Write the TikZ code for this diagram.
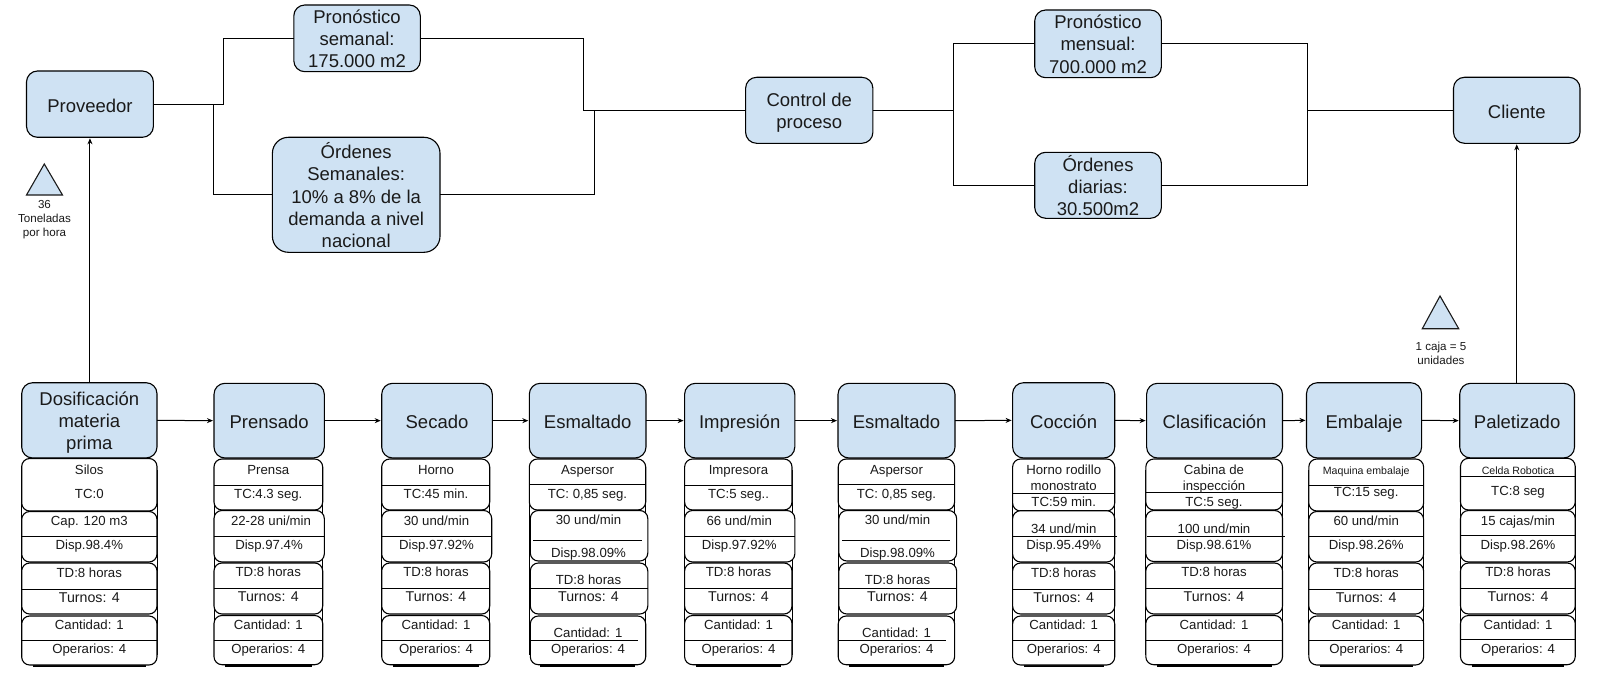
\documentclass[tikz,border=0pt]{standalone}
\usepackage{fontspec}
\setmainfont{Liberation Sans}
\usetikzlibrary{arrows.meta}
\definecolor{lblue}{HTML}{CFE2F3}
\definecolor{ink}{HTML}{1A1A1A}
\tikzset{
  base box/.style={draw=black,line width=1.1pt,inner sep=0pt,outer sep=0pt,align=center,text=ink},
  titlebox/.style={base box,fill=lblue,rounded corners=11pt},
  bigbox/.style={base box,fill=lblue,rounded corners=16pt},
  subbox/.style={base box,fill=white,rounded corners=8pt},
  titletext/.style={inner sep=0pt,outer sep=0pt,align=center,text=ink,yshift=-3.6pt,
    font=\fontsize{18.5}{22.3}\selectfont,execute at begin node=\strut,execute at end node=\strut},
  lbl/.style={anchor=base,inner sep=0pt,text=ink,font=\fontsize{13.2}{15}\selectfont},
  lblT/.style={lbl,font=\fontsize{14.2}{15}\selectfont},
  lblS/.style={lbl,font=\fontsize{10.6}{12}\selectfont},
  note/.style={inner sep=0pt,align=center,text=ink,font=\fontsize{11.6}{14}\selectfont},
  sepline/.style={line width=1pt,black},
  link/.style={line width=1pt,black},
  flow/.style={line width=1pt,black,-{Stealth[length=6pt,width=5pt]},shorten >=1pt},
  tri/.style={draw=ink,line width=1.1pt,fill=lblue,line join=miter},
}
\newcommand{\bx}[7][]{%
  \pgfmathsetmacro\bxw{#5-#3}\pgfmathsetmacro\bxh{#6-#4}%
  \node[#1,minimum width=\bxw pt,minimum height=\bxh pt] (#2) at ({(#3+#5)/2},{(#4+#6)/2}) {};
  \if\relax\detokenize{#7}\relax\else\node[titletext] (#2text) at (#2.center) {#7};\fi}
% name, x, y of text middle, text
\newcommand{\tx}[5][lbl]{\node[#1] (#2) at (#3,#4+4.7) {#5};}
% sharp sides behind a column, foot line
\newcommand{\sides}[2]{%
  \draw[sepline] (#1,470)--(#1,655) (#2,470)--(#2,655);
  \draw[line width=1.4pt] (#1+11,665.8)--(#2-11,665.8);}
\newcommand{\sep}[3]{\draw[sepline] (#1,#3)--(#2,#3);}
\begin{document}
\begin{tikzpicture}[x=1pt,y=-1pt]
\useasboundingbox[fill=white] (0,0) rectangle (1616,682);

% top row
\bx[titlebox]{prov}{26.5}{71}{153.4}{137.3}{Proveedor}
\bx[titlebox]{psem}{293.8}{5}{420.3}{71.7}{Pronóstico\\semanal:\\175.000 m2}
\bx[bigbox]{osem}{272.4}{137.3}{440}{252.3}{Órdenes\\Semanales:\\10\% a 8\% de la\\demanda a nivel\\nacional}
\bx[titlebox]{ctrl}{745.6}{77.3}{872.9}{143.3}{Control de\\proceso}
\bx[titlebox]{pmen}{1034.7}{10}{1161.4}{77.7}{Pronóstico\\mensual:\\700.000 m2}
\bx[titlebox]{odia}{1034.7}{152.3}{1161.4}{218.3}{Órdenes\\diarias:\\30.500m2}
\bx[titlebox]{cli}{1453.5}{77.3}{1580}{143.3}{Cliente}

\coordinate (j1) at (223.4,104.15);
\coordinate (j2) at (213.5,104.15);
\coordinate (j3) at (583,110.3);
\coordinate (j4) at (594,110.3);
\coordinate (j5) at (953.5,110.3);
\coordinate (j6) at (1307.5,110.3);
\draw[link] (prov.east) -- (j1) |- (psem.west);
\draw[link] (j2) |- (osem.west);
\draw[link] (psem.east) -| (j3) -- (ctrl.west);
\draw[link] (osem.east) -| (j4);
\draw[link] (ctrl.east) -- (j5) |- (pmen.west);
\draw[link] (j5) |- (odia.west);
\draw[link] (pmen.east) -| (j6) -- (cli.west);
\draw[link] (odia.east) -| (j6);

% inventory triangles
\draw[tri] (44.3,164) -- (62.5,195) -- (26.5,195) -- cycle;
\node[note] (nota) at (44.5,220) {36\\Toneladas\\por hora};
\draw[tri] (1440,296) -- (1458.7,328.7) -- (1422.3,328.7) -- cycle;
\node[note] (notb) at (1441,353) {1 caja = 5\\unidades};

% process row
\bx[titlebox]{t1}{21.7}{382.7}{157}{458}{Dosificación\\materia\\prima}
\bx[titlebox]{t2}{214}{383.3}{324.3}{458}{Prensado}
\bx[titlebox]{t3}{381.7}{383.3}{492.3}{458}{Secado}
\bx[titlebox]{t4}{529.3}{383.3}{646}{458}{Esmaltado}
\bx[titlebox]{t5}{684.6}{383.3}{794.8}{458}{Impresión}
\bx[titlebox]{t6}{838}{383.3}{955}{458}{Esmaltado}
\bx[titlebox]{t7}{1012.6}{382.7}{1114.7}{458}{Cocción}
\bx[titlebox]{t8}{1146.6}{383.3}{1282.5}{458}{Clasificación}
\bx[titlebox]{t9}{1306.5}{382.7}{1421.6}{458}{Embalaje}
\bx[titlebox]{t10}{1459.7}{383.3}{1574.5}{458}{Paletizado}

\draw[flow] (t1.east) -- (t2.west);
\draw[flow] (t2.east) -- (t3.west);
\draw[flow] (t3.east) -- (t4.west);
\draw[flow] (t4.east) -- (t5.west);
\draw[flow] (t5.east) -- (t6.west);
\draw[flow] (t6.east) -- (t7.west);
\draw[flow] (t7.east) -- (t8.west);
\draw[flow] (t8.east) -- (t9.west);
\draw[flow] (t9.east) -- (t10.west);
\draw[flow] (prov.south |- t1.north) -- (prov.south);
\draw[flow] (cli.south |- t10.north) -- (cli.south);

% column 1
\sides{21.7}{157}
\bx[subbox]{a1}{21.7}{458.5}{157}{511}{}
\bx[subbox]{a2}{21.7}{511.5}{157}{562}{}
\bx[subbox]{a3}{21.7}{563}{157}{614}{}
\bx[subbox]{a4}{21.7}{616}{157}{665}{}
\sep{21.7}{157}{536}\sep{21.7}{157}{589.3}\sep{21.7}{157}{640}
\tx{a1a}{89.3}{469.5}{Silos}
\tx{a1b}{89.3}{493.5}{TC:0}
\tx{a2a}{89.3}{521}{Cap. 120 m3}
\tx{a2b}{89.3}{545}{Disp.98.4\%}
\tx{a3a}{89.3}{572.5}{TD:8 horas}
\tx[lblT]{a3b}{89.3}{597.5}{Turnos: 4}
\tx{a4a}{89.3}{625}{Cantidad: 1}
\tx{a4b}{89.3}{649}{Operarios: 4}

% column 2
\sides{214}{322.7}
\bx[subbox]{b1}{214}{459}{322.7}{510}{}
\bx[subbox]{b2}{214}{510.5}{324.3}{562}{}
\bx[subbox]{b3}{214}{563}{322.7}{614}{}
\bx[subbox]{b4}{214}{615.5}{322.7}{664.7}{}
\sep{214}{322.7}{485}\sep{214}{324.3}{536}\sep{214}{322.7}{588.5}\sep{214}{322.7}{640}
\tx{b1a}{268.3}{469.3}{Prensa}
\tx{b1b}{268.3}{493.3}{TC:4.3 seg.}
\tx{b2a}{271}{520.7}{22-28 uni/min}
\tx{b2b}{269}{544.7}{Disp.97.4\%}
\tx{b3a}{268.3}{572}{TD:8 horas}
\tx[lblT]{b3b}{268.3}{597}{Turnos: 4}
\tx{b4a}{268.3}{624.3}{Cantidad: 1}
\tx{b4b}{268.3}{648.3}{Operarios: 4}

% column 3
\sides{381.7}{489.7}
\bx[subbox]{c1}{381.7}{459}{489.7}{510}{}
\bx[subbox]{c2}{381.7}{510.5}{491.7}{562}{}
\bx[subbox]{c3}{381.7}{563}{489.7}{614}{}
\bx[subbox]{c4}{381.7}{615.5}{489.7}{664.7}{}
\sep{381.7}{489.7}{485}\sep{381.7}{491.7}{536}\sep{381.7}{489.7}{588.5}\sep{381.7}{489.7}{640}
\tx{c1a}{436}{469.3}{Horno}
\tx{c1b}{436}{493.3}{TC:45 min.}
\tx{c2a}{436.5}{520.7}{30 und/min}
\tx{c2b}{436.5}{544.7}{Disp.97.92\%}
\tx{c3a}{436}{572}{TD:8 horas}
\tx[lblT]{c3b}{436}{597}{Turnos: 4}
\tx{c4a}{436}{624.3}{Cantidad: 1}
\tx{c4b}{436}{648.3}{Operarios: 4}

% column 4
\sides{529.3}{645.7}
\bx[subbox]{d1}{529.3}{459}{645.7}{510}{}
\bx[subbox]{d2}{530.3}{510.5}{647.8}{561}{}
\bx[subbox]{d3}{530.3}{563}{647.8}{614}{}
\bx[subbox]{d4}{530.3}{616}{645.7}{664.7}{}
\sep{529.3}{645.7}{484.3}\sep{533}{641.6}{540}\sep{530.3}{647.8}{588.3}\sep{530.3}{637.8}{640.3}
\tx{d1a}{587.5}{469.3}{Aspersor}
\tx{d1b}{587.5}{493.3}{TC: 0,85 seg.}
\tx{d2a}{588.5}{520}{30 und/min}
\tx{d2b}{588.5}{552.7}{Disp.98.09\%}
\tx{d3a}{588.5}{580}{TD:8 horas}
\tx[lblT]{d3b}{588.5}{597}{Turnos: 4}
\tx{d4a}{588}{632.3}{Cantidad: 1}
\tx{d4b}{588}{648.3}{Operarios: 4}

% column 5
\sides{684.6}{792}
\bx[subbox]{e1}{684.6}{459}{792}{510}{}
\bx[subbox]{e2}{684.6}{510.5}{794.8}{562}{}
\bx[subbox]{e3}{684.6}{563}{792}{614}{}
\bx[subbox]{e4}{684.6}{615.5}{792}{664.7}{}
\sep{684.6}{792}{485}\sep{684.6}{794.8}{536}\sep{684.6}{792}{588.5}\sep{684.6}{792}{640}
\tx{e1a}{738.5}{469.3}{Impresora}
\tx{e1b}{738.5}{493.3}{TC:5 seg..}
\tx{e2a}{739.3}{520.7}{66 und/min}
\tx{e2b}{739.3}{544.7}{Disp.97.92\%}
\tx{e3a}{738.5}{572}{TD:8 horas}
\tx[lblT]{e3b}{738.5}{597}{Turnos: 4}
\tx{e4a}{738.5}{624.3}{Cantidad: 1}
\tx{e4b}{738.5}{648.3}{Operarios: 4}

% column 6
\sides{838.2}{954.6}
\bx[subbox]{f1}{838.2}{459}{954.6}{510}{}
\bx[subbox]{f2}{838.9}{510.5}{956.6}{561}{}
\bx[subbox]{f3}{838.9}{563}{956.6}{614}{}
\bx[subbox]{f4}{838.2}{616}{954.6}{664.7}{}
\sep{838.2}{954.6}{484.3}\sep{842.3}{950.4}{540}\sep{838.9}{956.6}{588.3}\sep{838.2}{946.3}{640.3}
\tx{f1a}{896.5}{469.3}{Aspersor}
\tx{f1b}{896.5}{493.3}{TC: 0,85 seg.}
\tx{f2a}{897.5}{520}{30 und/min}
\tx{f2b}{897.5}{552.7}{Disp.98.09\%}
\tx{f3a}{897.5}{580}{TD:8 horas}
\tx[lblT]{f3b}{897.5}{597}{Turnos: 4}
\tx{f4a}{896.5}{632.3}{Cantidad: 1}
\tx{f4b}{896.5}{648.3}{Operarios: 4}

% column 7
\sides{1012.6}{1114.7}
\bx[subbox]{g1}{1012.6}{459}{1114.7}{511}{}
\bx[subbox]{g2}{1012.6}{510.7}{1114.7}{562}{}
\bx[subbox]{g3}{1012.6}{563}{1114.7}{614}{}
\bx[subbox]{g4}{1012.6}{616}{1114.7}{665}{}
\sep{1012.6}{1114.7}{493.3}\sep{1012.6}{1116.7}{536}\sep{1012.6}{1114.7}{589.3}\sep{1012.6}{1114.7}{640}
\tx{g1a}{1063.7}{469.7}{Horno rodillo}
\tx{g1b}{1063.7}{485.7}{monostrato}
\tx{g1c}{1063.7}{501.7}{TC:59 min.}
\tx{g2a}{1063.7}{528.7}{34 und/min}
\tx{g2b}{1063.7}{544.7}{Disp.95.49\%}
\tx{g3a}{1063.7}{572.7}{TD:8 horas}
\tx[lblT]{g3b}{1063.7}{597.7}{Turnos: 4}
\tx{g4a}{1063.7}{625}{Cantidad: 1}
\tx{g4b}{1063.7}{649}{Operarios: 4}

% column 8
\sides{1145.8}{1282.5}
\bx[subbox]{h1}{1145.8}{459}{1282.5}{510}{}
\bx[subbox]{h2}{1145.8}{510.5}{1282.5}{561.5}{}
\bx[subbox]{h3}{1145.8}{563}{1282.5}{614}{}
\bx[subbox]{h4}{1145.8}{615.5}{1282.5}{664.7}{}
\sep{1145.8}{1282.5}{492.3}\sep{1147.3}{1284.5}{536}\sep{1145.8}{1282.5}{588.3}\sep{1145.8}{1282.5}{640}
\tx{h1a}{1214}{469.3}{Cabina de}
\tx{h1b}{1214}{485.3}{inspección}
\tx{h1c}{1214}{501.7}{TC:5 seg.}
\tx{h2a}{1214}{528.7}{100 und/min}
\tx{h2b}{1214}{544.7}{Disp.98.61\%}
\tx{h3a}{1214}{572}{TD:8 horas}
\tx[lblT]{h3b}{1214}{597}{Turnos: 4}
\tx{h4a}{1214}{624.3}{Cantidad: 1}
\tx{h4b}{1214}{648.3}{Operarios: 4}

% column 9
\sides{1308.8}{1423.6}
\bx[subbox]{i1}{1308.8}{459}{1423.6}{511}{}
\bx[subbox]{i2}{1308.8}{511.5}{1423.6}{562}{}
\bx[subbox]{i3}{1308.8}{563}{1423.6}{614}{}
\bx[subbox]{i4}{1308.8}{616}{1423.6}{665}{}
\sep{1308.8}{1423.6}{485}\sep{1308.8}{1423.6}{536}\sep{1308.8}{1423.6}{589.3}\sep{1308.8}{1423.6}{640}
\tx[lblS]{i1a}{1366.2}{470.2}{Maquina embalaje}
\tx{i1b}{1366.2}{491.3}{TC:15 seg.}
\tx{i2a}{1366.2}{521}{60 und/min}
\tx{i2b}{1366.2}{545}{Disp.98.26\%}
\tx{i3a}{1366.2}{572.7}{TD:8 horas}
\tx[lblT]{i3b}{1366.2}{597.7}{Turnos: 4}
\tx{i4a}{1366.2}{625}{Cantidad: 1}
\tx{i4b}{1366.2}{649}{Operarios: 4}

% column 10
\sides{1460.5}{1575.2}
\bx[subbox]{k1}{1460.5}{458.3}{1575.2}{510}{}
\bx[subbox]{k2}{1460.5}{510.5}{1575.2}{562}{}
\bx[subbox]{k3}{1460.5}{563}{1575.2}{614}{}
\bx[subbox]{k4}{1460.5}{615.5}{1575.2}{664.7}{}
\sep{1460.5}{1575.2}{476.3}\sep{1460.5}{1575.2}{535.3}\sep{1460.5}{1575.2}{588.3}\sep{1460.5}{1575.2}{639.3}
\tx[lblS]{k1a}{1518}{469.5}{Celda Robotica}
\tx{k1b}{1518}{490.3}{TC:8 seg}
\tx{k2a}{1518}{520.3}{15 cajas/min}
\tx{k2b}{1518}{544.3}{Disp.98.26\%}
\tx{k3a}{1518}{571.7}{TD:8 horas}
\tx[lblT]{k3b}{1518}{596.7}{Turnos: 4}
\tx{k4a}{1518}{624.3}{Cantidad: 1}
\tx{k4b}{1518}{648.3}{Operarios: 4}
\end{tikzpicture}
\end{document}
